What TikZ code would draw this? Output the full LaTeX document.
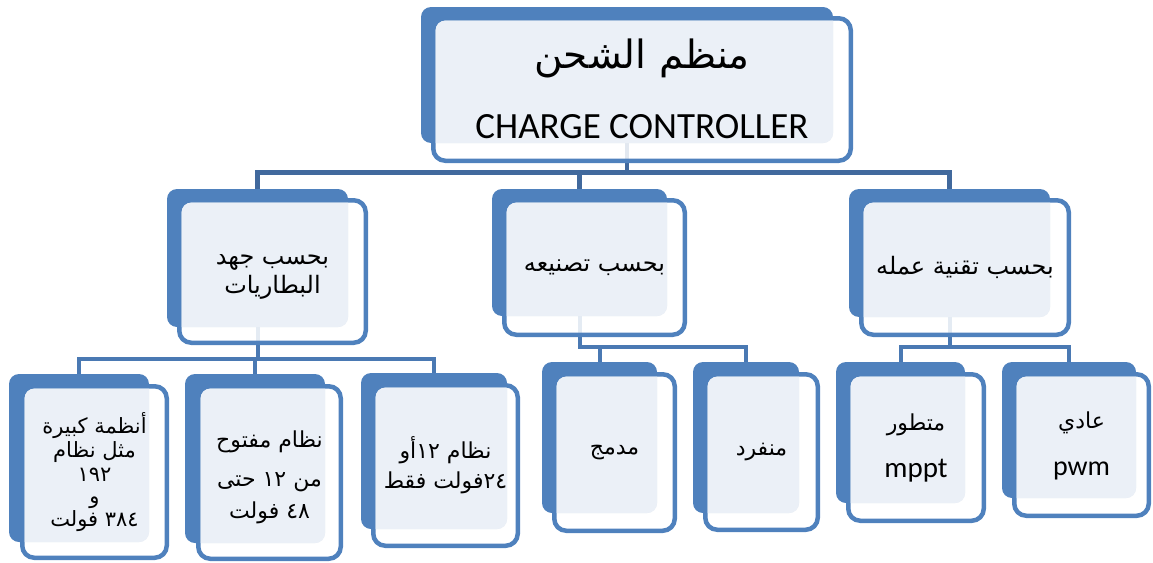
\documentclass[tikz,border=0pt]{standalone}
\usepackage{fontspec}
\usetikzlibrary{fit,calc,backgrounds}
\TeXXeTstate=1
\newfontfamily\arabicfont[Script=Arabic]{DejaVu Sans}
\newfontfamily\latinfont{Carlito}
\definecolor{accent}{HTML}{4F81BD}
\definecolor{paleblue}{HTML}{EBF0F7}
\definecolor{trunkblue}{HTML}{41699D}
\definecolor{branchblue}{HTML}{4A79B3}

% one right-to-left line of zero height, so that rows sit exactly one leading apart
\newcommand\rl[1]{\smash{\beginR #1\endR}}
\newcommand\lr[1]{\smash{#1}}

\tikzset{
  backcard/.style={fill=accent, draw=none, rounded corners=10pt, inner sep=0pt, outer sep=0pt},
  frontcard/.style={draw=accent, line width=4.5pt, fill=white, fill opacity=0.85,
    rounded corners=12pt, inner sep=0pt, outer sep=0pt},
  trunk/.style={draw=trunkblue, line width=4.5pt},
  branch/.style={draw=branchblue, line width=4pt},
  artext/.style={font=\arabicfont\fontsize{22}{30}\selectfont, align=center, inner sep=0pt},
  midtext/.style={font=\arabicfont\fontsize{24}{29}\selectfont, align=center, inner sep=0pt},
  titlear/.style={font=\arabicfont\fontsize{39}{48}\selectfont, inner sep=0pt},
  titleen/.style={font=\latinfont\fontsize{37}{40}\selectfont, inner sep=0pt},
}

% a card: dark back plate, outlined front plate, pale overlap
% #1 name, #2/#3 back corners, #4/#5 front corners (stroke centre)
\newcommand\card[5]{%
  \node[backcard, fit={(#2) (#3)}] (#1-b) {};
  \node[frontcard, fit={(#4) (#5)}] (#1-f) {};
  \begin{scope}
    \clip[rounded corners=10pt] ($(#1-f.south west)+(2.25pt,2.25pt)$) rectangle ($(#1-f.north east)+(-2.25pt,-2.25pt)$);
    \fill[paleblue, rounded corners=10pt] (#1-b.south west) rectangle (#1-b.north east);
  \end{scope}
}

\begin{document}
\begin{tikzpicture}[x=1pt, y=-1pt]
\useasboundingbox (0,0) rectangle (1153,562);

% plates
\card{top}{421,7}{833,143}{433.25,18.25}{850.75,160.75}
\card{m1}{167,189}{348,327}{179.25,200.25}{365.75,342.75}
\card{m2}{492,189}{667,316}{504.25,200.25}{684.75,334.75}
\card{m3}{849,189}{1050,317}{861.25,200.25}{1068.75,334.75}
\card{l1}{9,374}{149,542}{22.25,386.25}{166.75,557.75}
\card{l2}{185,374}{325,543}{198.25,386.25}{340.75,558.75}
\card{l3}{361,373}{507,529}{373.25,385.25}{517.75,545.75}
\card{r1}{542,362}{657,513}{554.25,374.25}{674.75,530.75}
\card{r2}{693,362}{799,513}{705.25,374.25}{817.75,529.75}
\card{s1}{836,362}{965,503}{848.25,374.25}{983.75,520.75}
\card{s2}{1002,362}{1136,498}{1014.25,374.25}{1148.75,515.75}

% labels
\node[titlear] (title-ar) at (top-f.center |- 0,58) {\beginR منظم الشحن\endR};
\node[titleen, anchor=base] (title-en) at (top-f.center |- 0,138) {CHARGE CONTROLLER};

\node[midtext] (m1) at (m1-f.center |- 0,279) {\rl{بحسب جهد}\\\rl{البطاريات}};
\node[midtext] (m2) at (m2-f.center) {\beginR بحسب تصنيعه\endR};
\node[midtext] (m3) at (m3-f.center) {\beginR بحسب تقنية عمله\endR};

\node[artext, font=\arabicfont\fontsize{21}{24}\selectfont] (l1) at (l1-f.center |- 0,479.5)
  {\rl{أنظمة كبيرة}\\\rl{مثل نظام}\\\rl{١٩٢}\\[-2pt]\rl{و}\\[-1pt]\rl{٣٨٤ فولت}};
\node[artext, font=\arabicfont\fontsize{22}{35}\selectfont] (l2) at (l2-f.center |- 0,482.5)
  {\rl{نظام مفتوح}\\[4pt]\rl{من ١٢ حتى}\\[-3pt]\rl{٤٨ فولت}};
\node[artext] (l3) at (l3-f.center |- 0,473) {\rl{نظام ١٢أو}\\\rl{٢٤فولت فقط}};

\node[artext] (r1) at (r1-f.center) {\beginR مدمج\endR};
\node[artext] (r2) at (r2-f.center) {\beginR منفرد\endR};

\node[artext] (s1) at (s1-f.center |- 0,453.5)
  {\rl{متطور}\\[17pt]\lr{\latinfont\fontsize{29}{30}\selectfont mppt}};
\node[artext] (s2) at (s2-f.center |- 0,451.5)
  {\rl{عادي}\\[17pt]\lr{\latinfont\fontsize{28}{30}\selectfont pwm}};

% connectors, behind the cards
\coordinate (trunk-y) at (0,172.5);
\coordinate (left-y) at (0,359);
\coordinate (mid-y) at (0,347);
\begin{pgfonlayer}{background}
  \draw[trunk] (top-b.center) -- (top-b.center |- trunk-y);
  \draw[trunk] (m1-b.center) |- (m3-b.center |- trunk-y) -- (m3-b.center);
  \draw[trunk] (m2-b.center |- trunk-y) -- (m2-b.center);

  \draw[branch] (m1-b.center) -- (m1-b.center |- left-y);
  \draw[branch] (l1-b.center) |- (l3-b.center |- left-y) -- (l3-b.center);
  \draw[branch] (l2-b.center |- left-y) -- (l2-b.center);

  \draw[branch] (m2-b.center) |- (r2-b.center |- mid-y) -- (r2-b.center);
  \draw[branch] (r1-b.center |- mid-y) -- (r1-b.center);

  \draw[branch] (m3-b.center) -- (m3-b.center |- mid-y);
  \draw[branch] (s1-b.center) |- (s2-b.center |- mid-y) -- (s2-b.center);
\end{pgfonlayer}
\end{tikzpicture}
\end{document}
